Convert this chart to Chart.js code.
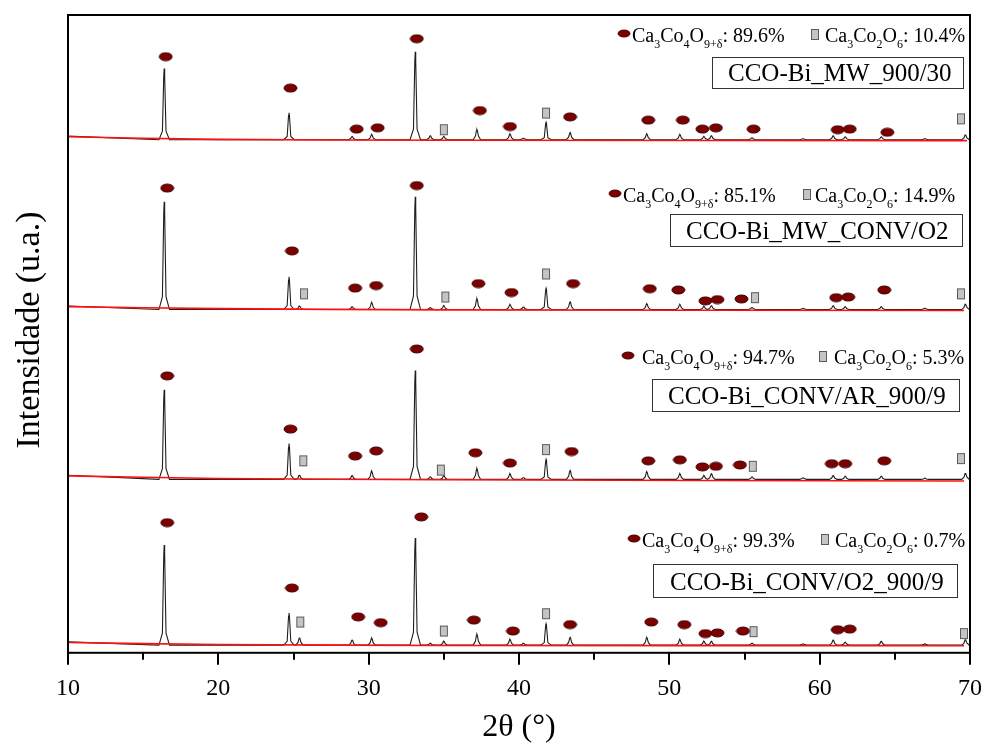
<!DOCTYPE html>
<html lang="pt">
<head>
<meta charset="UTF-8">
<title>DRX - CCO-Bi</title>
<script src="https://cdn.jsdelivr.net/npm/chart.js"></script>
<style>
  html, body { margin: 0; padding: 0; background: #fff; }
  .chart-box { width: 984px; height: 749px; }
</style>
</head>
<body>
<div class="chart-box"><canvas id="xrd" width="984" height="749"></canvas></div>
<script>
// ---- data ----
const xMin = 10, xMax = 70;
const xTicks = [10, 20, 30, 40, 50, 60, 70];

const sampleNames = ['CCO-Bi_MW_900/30', 'CCO-Bi_MW_CONV/O2', 'CCO-Bi_CONV/AR_900/9', 'CCO-Bi_CONV/O2_900/9'];
const pctCa349 = ['89.6%', '85.1%', '94.7%', '99.3%'];
const pctCa326 = ['10.4%', '14.9%', '5.3%', '0.7%'];

// stacked baseline of each pattern (top -> bottom)
const offsets = [80.05, 53.55, 27.05, 1.2];

// peak positions (2theta) and heights above baseline for each pattern
const peakPos = [16.4, 24.7, 25.4, 28.9, 30.2, 33.1, 34.1, 35.0, 37.2, 39.4, 40.3, 41.8, 43.4,
                 48.5, 50.7, 52.3, 52.8, 55.5, 58.9, 60.9, 61.7, 64.1, 67.0, 69.7];
const h1 = [11.1, 4.2, 0, 0.5, 0.8, 13.7, 0.6, 0.5, 1.6, 0.9, 0.25, 2.7, 1.1,
            0.9, 0.8, 0.5, 0.6, 0.3, 0.15, 0.6, 0.45, 0.45, 0.15, 0.8];
const h2 = [16.8, 5.1, 0.6, 0.45, 1.1, 17.6, 0.3, 0.6, 1.7, 0.8, 0.45, 3.3, 1.2,
            0.9, 0.8, 0.5, 0.6, 0.3, 0.2, 0.6, 0.45, 0.45, 0.2, 0.9];
const h3 = [14.0, 5.6, 0.7, 0.6, 1.3, 17.0, 0.4, 0.6, 1.7, 0.9, 0.3, 3.1, 1.4,
            1.2, 0.9, 0.6, 0.9, 0.4, 0.25, 0.6, 0.5, 0.5, 0.2, 1.0];
const h4 = [15.6, 5.0, 1.2, 0.8, 1.1, 16.7, 0.3, 0.6, 1.7, 0.9, 0.3, 3.3, 1.2,
            1.2, 0.9, 0.6, 0.6, 0.3, 0.2, 0.8, 0.45, 0.6, 0.2, 0.9];

// background fits (red)
const bg1 = [[10, 80.5], [20, 80.1], [35, 79.95], [69.8, 79.9]];
const bg2 = [[10, 54.0], [20, 53.7], [35, 53.5], [69.6, 53.4]];
const bg3 = [[10, 27.6], [20, 27.2], [35, 27.0], [69.6, 26.8]];
const bg4 = [[10, 1.6], [20, 1.3], [35, 1.15], [69.6, 1.1]];

// phase markers: Ca3Co4O9 (ellipse) and Ca3Co2O6 (square)
const ell1 = [[16.5, 93.0], [24.8, 88.1], [29.2, 81.7], [30.6, 81.9], [33.2, 95.8], [37.4, 84.6], [39.4, 82.1],
              [43.4, 83.6], [48.6, 83.1], [50.9, 83.1], [52.2, 81.7], [53.1, 81.9], [55.6, 81.7], [61.2, 81.6],
              [62.0, 81.7], [64.5, 81.2]];
const sq1 = [[35.0, 81.6], [41.8, 84.2], [69.4, 83.3]];
const ell2 = [[16.6, 72.5], [24.9, 62.7], [29.1, 56.9], [30.5, 57.3], [33.2, 72.9], [37.3, 57.6], [39.5, 56.2],
              [43.6, 57.6], [48.7, 56.8], [50.6, 56.6], [52.4, 54.9], [53.2, 55.1], [54.8, 55.2], [61.1, 55.4],
              [61.9, 55.5], [64.3, 56.6]];
const sq2 = [[25.7, 56.0], [35.1, 55.5], [41.8, 59.1], [55.7, 55.4], [69.4, 56.0]];
const ell3 = [[16.6, 43.2], [24.8, 34.9], [29.1, 30.7], [30.5, 31.5], [33.2, 47.4], [37.1, 31.2], [39.4, 29.6],
              [43.5, 31.4], [48.6, 29.95], [50.7, 30.1], [52.2, 29.0], [53.1, 29.1], [54.7, 29.3], [60.8, 29.5],
              [61.7, 29.5], [64.3, 29.95]];
const sq3 = [[25.65, 29.95], [34.8, 28.5], [41.8, 31.7], [55.55, 29.1], [69.4, 30.3]];
const ell4 = [[16.6, 20.3], [24.9, 10.1], [29.3, 5.6], [30.8, 4.7], [33.5, 21.2], [37.0, 5.1], [39.6, 3.4],
              [43.4, 4.4], [48.8, 4.8], [51.0, 4.4], [52.4, 3.0], [53.2, 3.1], [54.9, 3.4], [61.2, 3.6],
              [62.0, 3.7]];
const sq4 = [[25.45, 4.8], [35.0, 3.4], [41.8, 6.1], [55.6, 3.3], [69.6, 3.0]];

// ---- build datasets ----
function patternPoints(base, heights, startY) {
  const pts = [{x: xMin, y: startY}];
  peakPos.forEach((p, i) => {
    const h = heights[i];
    if (!h) return;
    const big = h > 2;
    const w = big ? 0.35 : 0.25;
    const s = big ? 0.12 : 0.1;
    pts.push({x: p - w, y: base});
    pts.push({x: p - s, y: base + h * (big ? 0.12 : 0.35)});
    pts.push({x: p - 0.03, y: base + h * 0.9});
    pts.push({x: p, y: base + h});
    pts.push({x: p + 0.03, y: base + h * 0.9});
    pts.push({x: p + s, y: base + h * (big ? 0.12 : 0.35)});
    pts.push({x: p + w, y: base});
  });
  pts.push({x: xMax, y: base});
  return pts;
}
const toXY = arr => arr.map(([x, y]) => ({x, y}));

function makeEllipse() {
  const c = document.createElement('canvas');
  c.width = 15; c.height = 10;
  const g = c.getContext('2d');
  g.fillStyle = '#7d0000';
  g.strokeStyle = '#3d0000';
  g.lineWidth = 1;
  g.beginPath();
  g.ellipse(7.5, 5, 6.5, 4, 0, 0, Math.PI * 2);
  g.fill(); g.stroke();
  return c;
}
function makeSquare() {
  const c = document.createElement('canvas');
  c.width = 10; c.height = 13;
  const g = c.getContext('2d');
  g.fillStyle = '#c4c4c4';
  g.strokeStyle = '#5a5a5a';
  g.lineWidth = 1;
  g.fillRect(1, 1, 8, 11);
  g.strokeRect(1.5, 1.5, 7, 10);
  return c;
}
const ellImg = makeEllipse();
const sqImg = makeSquare();

const heights = [h1, h2, h3, h4];
const bgs = [bg1, bg2, bg3, bg4];

const datasets = [
  { type: 'scatter', label: 'Ca3Co4O9', data: toXY([...ell1, ...ell2, ...ell3, ...ell4]),
    pointStyle: ellImg, pointRadius: 5, showLine: false },
  { type: 'scatter', label: 'Ca3Co2O6', data: toXY([...sq1, ...sq2, ...sq3, ...sq4]),
    pointStyle: sqImg, pointRadius: 5, showLine: false }
];
bgs.forEach((bg, i) => {
  datasets.push({ type: 'line', label: 'bg' + i, data: toXY(bg), borderColor: '#ff1010',
    borderWidth: 1.6, pointRadius: 0, tension: 0.3 });
});
heights.forEach((h, i) => {
  datasets.push({ type: 'line', label: sampleNames[i], data: patternPoints(offsets[i], h, bgs[i][0][1] + 0.1),
    borderColor: '#1e1e1e', borderWidth: 1.1, pointRadius: 0, tension: 0 });
});

// ---- custom drawing: frame, ticks, y title, panel labels ----
const FONT = '"Liberation Serif", "Times New Roman", serif';

function richText(ctx, x, y, parts, size) {
  parts.forEach(p => {
    const s = p.sub ? Math.round(size * 0.62) : size;
    ctx.font = s + 'px ' + FONT;
    ctx.fillText(p.t, x, y + (p.sub ? size * 0.28 : 0));
    x += ctx.measureText(p.t).width;
  });
  return x;
}

// label layout of each panel (pixels)
const panelLayout = [
  { y: 42,  e: 624, t1: 632, s: 815, t2: 825, box: [712, 57, 251, 31],  bt: 728 },
  { y: 202, e: 615, t1: 623, s: 807, t2: 815, box: [670, 214, 292, 32], bt: 686 },
  { y: 364, e: 628, t1: 642, s: 823, t2: 834, box: [652, 379, 307, 32], bt: 668 },
  { y: 547, e: 634, t1: 642, s: 825, t2: 835, box: [653, 564, 304, 33], bt: 670 }
];

const decorPlugin = {
  id: 'decor',
  afterDraw(chart) {
    const ctx = chart.ctx;
    const a = chart.chartArea;
    const xs = chart.scales.x;
    ctx.save();
    // frame
    ctx.strokeStyle = '#000';
    ctx.lineWidth = 2;
    ctx.strokeRect(a.left, a.top, a.right - a.left, a.bottom - a.top);
    // outward ticks on x axis
    for (let v = xMin; v <= xMax; v += 5) {
      const px = Math.round(xs.getPixelForValue(v));
      const len = v % 10 === 0 ? 12 : 7;
      ctx.beginPath();
      ctx.moveTo(px, a.bottom);
      ctx.lineTo(px, a.bottom + len);
      ctx.stroke();
    }
    // y title
    ctx.fillStyle = '#000';
    ctx.font = '34px ' + FONT;
    ctx.textAlign = 'center';
    ctx.textBaseline = 'middle';
    ctx.translate(30, 330);
    ctx.rotate(-Math.PI / 2);
    ctx.fillText('Intensidade (u.a.)', 0, 0);
    ctx.restore();

    // panel labels
    ctx.save();
    ctx.fillStyle = '#000';
    ctx.textAlign = 'left';
    ctx.textBaseline = 'alphabetic';
    panelLayout.forEach((L, i) => {
      ctx.drawImage(ellImg, L.e - 7, L.y - 13, 14, 9);
      richText(ctx, L.t1, L.y, [
        {t: 'Ca'}, {t: '3', sub: true}, {t: 'Co'}, {t: '4', sub: true}, {t: 'O'},
        {t: '9+δ', sub: true}, {t: ': ' + pctCa349[i]}], 20);
      ctx.drawImage(sqImg, L.s - 5, L.y - 14, 10, 13);
      richText(ctx, L.t2, L.y, [
        {t: 'Ca'}, {t: '3', sub: true}, {t: 'Co'}, {t: '2', sub: true}, {t: 'O'},
        {t: '6', sub: true}, {t: ': ' + pctCa326[i]}], 20);
      const [bx, by, bw, bh] = L.box;
      ctx.strokeStyle = '#333';
      ctx.lineWidth = 1;
      ctx.strokeRect(bx + 0.5, by + 0.5, bw, bh);
      ctx.font = '25px ' + FONT;
      ctx.fillText(sampleNames[i], L.bt, by + bh - 7);
    });
    ctx.restore();
  }
};

new Chart(document.getElementById('xrd'), {
  data: { datasets },
  options: {
    responsive: false,
    animation: false,
    devicePixelRatio: 1,
    layout: { padding: { left: 68, right: 14, top: 15, bottom: 2 } },
    plugins: { legend: { display: false }, tooltip: { enabled: false } },
    scales: {
      x: {
        type: 'linear', min: xMin, max: xMax,
        // tick marks are drawn by the plugin; tickLength only reserves the space
        grid: { display: false, drawTicks: true, tickLength: 22 },
        border: { display: false },
        ticks: {
          stepSize: 10, padding: 0, color: '#000', maxRotation: 0,
          font: { family: FONT, size: 24 },
          callback: v => xTicks.includes(v) ? String(v) : ''
        },
        title: { display: true, text: '2θ (°)', color: '#000',
                 font: { family: FONT, size: 32 }, padding: { top: 5, bottom: 0 } }
      },
      y: { type: 'linear', min: 0, max: 99.5, display: false }
    }
  },
  plugins: [decorPlugin]
});
</script>
</body>
</html>
